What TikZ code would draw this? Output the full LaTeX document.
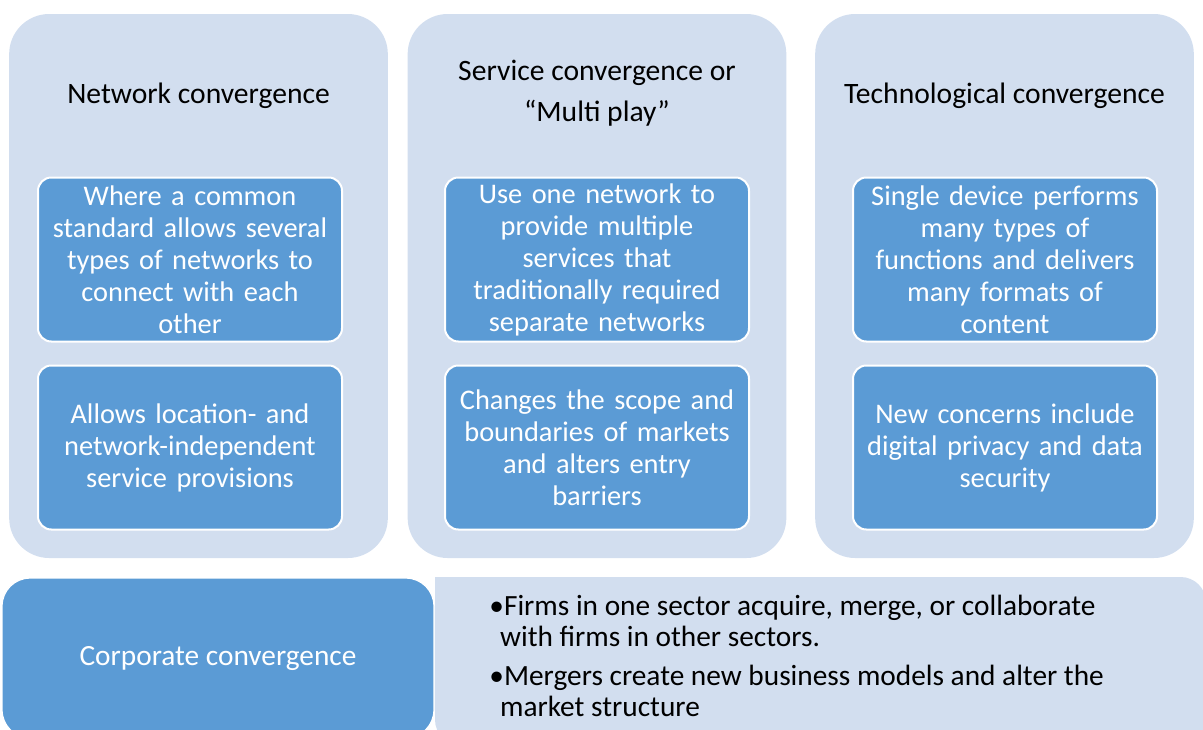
\documentclass[tikz,border=0pt]{standalone}
\usepackage{fontspec}
\setmainfont{Carlito}
\usepackage{xcolor}
\usetikzlibrary{positioning}
\definecolor{lightpanel}{RGB}{210,222,239}
\definecolor{bluebox}{RGB}{91,155,213}

\begin{document}
\begin{tikzpicture}[
    x=0.75pt,y=-0.75pt,
    outer sep=0pt,node distance=18pt,
    panel/.style={fill=lightpanel,rectangle,rounded corners=30pt,minimum width=284pt,minimum height=408pt},
    itembox/.style={fill=bluebox,draw=white,line width=1.5pt,rectangle,rounded corners=10pt,
                    minimum width=228pt,minimum height=123pt,inner xsep=7pt,text width=214pt,align=center,
                    text=white,font=\fontsize{21.3}{24}\selectfont},
    paneltitle/.style={align=center,font=\fontsize{22.2}{30.75}\selectfont},
    ]
    \useasboundingbox (0,0) rectangle (1203,729);

    % three columns
    \node (netpanel)  [panel] at (198.5,286) {};
    \node (svcpanel)  [panel] at (597,286)   {};
    \node (techpanel) [panel] at (1004.5,286) {};

    \node (nettitle)  [paneltitle] at (198.5,96) {Network convergence};
    \node (svctitle)  [paneltitle] at (597,93.5) {Service convergence or\\“Multi play”};
    \node (techtitle) [paneltitle] at (1004.5,96) {Technological convergence};

    \node (net1)  [itembox] at (190,259.5) {Where a common\\standard allows several\\types of networks to\\connect with each\\other};
    \node (net2)  [itembox,below=of net1]  {Allows location- and\\network-independent\\service provisions};

    \node (svc1)  [itembox] at (597,259.5) {Use one network to\\provide multiple\\services that\\traditionally required\\separate networks};
    \node (svc2)  [itembox,below=of svc1]  {Changes the scope and\\boundaries of markets\\and alters entry\\barriers};

    \node (tech1) [itembox] at (1005,259.5) {Single device performs\\many types of\\functions and delivers\\many formats of\\content};
    \node (tech2) [itembox,below=of tech1]  {New concerns include\\digital privacy and data\\security};

    % corporate row, runs off the page
    \fill [lightpanel] (435,745) -- (435,577) [rounded corners=19pt] -- (1206,577) -- (1206,745) -- cycle;
    \node (corp) [fill=bluebox,draw=white,line width=1pt,rectangle,rounded corners=21pt,
                  minimum width=324pt,minimum height=120pt,text=white,
                  font=\fontsize{22}{24}\selectfont] at (218,658) {Corporate convergence};
    \node (corpnotes) [anchor=west,align=left,font=\fontsize{22}{23.25}\selectfont] at (485,656)
        {\textbullet Firms in one sector acquire, merge, or collaborate\\
         \hspace*{8pt}with firms in other sectors.\\[6pt]
         \textbullet Mergers create new business models and alter the\\
         \hspace*{8pt}market structure};
\end{tikzpicture}
\end{document}
